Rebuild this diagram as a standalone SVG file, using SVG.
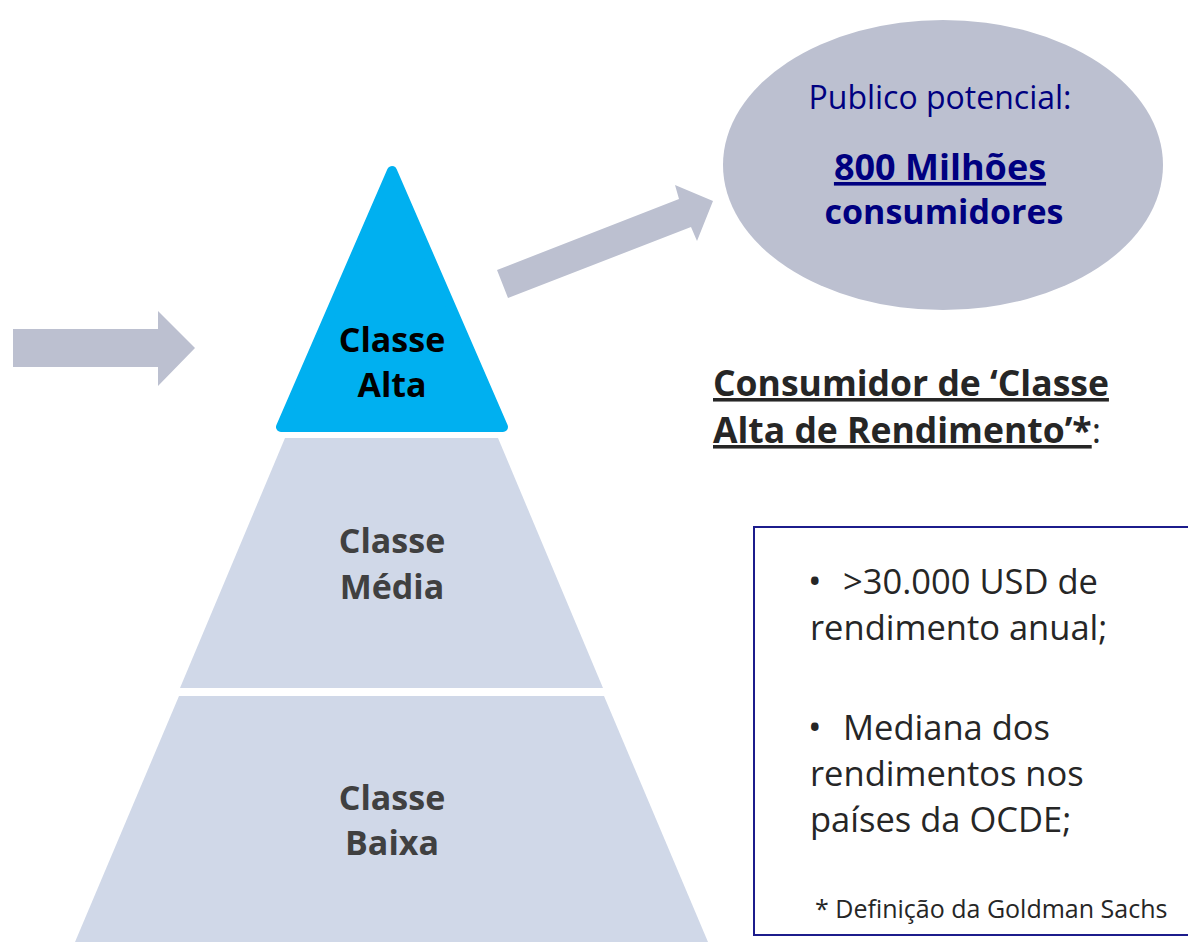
<svg xmlns="http://www.w3.org/2000/svg" width="1188" height="942" viewBox="0 0 1188 942">
<style>
  .lbl { font-family: "Open Sans", "Liberation Sans", sans-serif; font-weight: bold; font-size: 34px; text-anchor: middle; }
  .dark { fill: #404040; }
  .navy { fill: #000080; font-family: "Open Sans", "Liberation Sans", sans-serif; text-anchor: middle; }
  .body { font-family: "Open Sans", "Liberation Sans", sans-serif; fill: #262626; }
  .arrow { fill: #BCC0D0; }
</style>
<rect width="1188" height="942" fill="#FFFFFF"/>

<g id="connectors">
  <polygon class="arrow" points="13,329 158,329 158,311 195,348 158,386 158,367 13,367"/>
  <polygon class="arrow" points="497,270 679,199 675,185 713,201 697,241 691,227 508,298"/>
</g>

<g id="classe-alta">
  <polygon points="392,171 281,427 503,427" fill="#00B0F0" stroke="#00B0F0" stroke-width="10" stroke-linejoin="round"/>
  <text class="lbl" x="392" y="352" fill="#000000">Classe</text>
  <text class="lbl" x="392" y="397" fill="#000000">Alta</text>
</g>

<g id="classe-media">
  <polygon points="285,438 498,438 603,688 180,688" fill="#D0D8E8"/>
  <text class="lbl dark" x="392" y="553">Classe</text>
  <text class="lbl dark" x="392" y="599">Média</text>
</g>

<g id="classe-baixa">
  <polygon points="179,696 604,696 708,942 75,942" fill="#D0D8E8"/>
  <text class="lbl dark" x="392" y="810">Classe</text>
  <text class="lbl dark" x="392" y="855">Baixa</text>
</g>

<g id="publico">
  <ellipse cx="943" cy="165" rx="220" ry="145" fill="#BCC0D0"/>
  <text class="navy" x="940" y="109" font-size="32">Publico potencial:</text>
  <text class="navy" x="940" y="180" font-size="36" font-weight="bold" text-decoration="underline">800 Milhões</text>
  <text class="navy" x="944" y="224" font-size="34" font-weight="bold">consumidores</text>
</g>

<g id="heading">
  <text class="body" x="713" y="396" font-size="35.5" font-weight="bold" text-decoration="underline">Consumidor de ‘Classe</text>
  <text class="body" x="713" y="443" font-size="35.5"><tspan font-weight="bold" text-decoration="underline">Alta de Rendimento’*</tspan><tspan>:</tspan></text>
</g>

<g id="definicao">
  <rect x="754" y="527" width="440" height="408" fill="#FFFFFF" stroke="#1C1C8C" stroke-width="2"/>
  <text class="body" x="808" y="594" font-size="36">•</text>
  <text class="body" x="843" y="594" font-size="34.5">&gt;30.000 USD de</text>
  <text class="body" x="810" y="640" font-size="34.5">rendimento anual;</text>
  <text class="body" x="808" y="740" font-size="36">•</text>
  <text class="body" x="843" y="740" font-size="34.5">Mediana dos</text>
  <text class="body" x="810" y="786" font-size="34.5">rendimentos nos</text>
  <text class="body" x="810" y="832" font-size="34.5">países da OCDE;</text>
  <text class="body" x="815" y="918" font-size="25">* Definição da Goldman Sachs</text>
</g>
</svg>
